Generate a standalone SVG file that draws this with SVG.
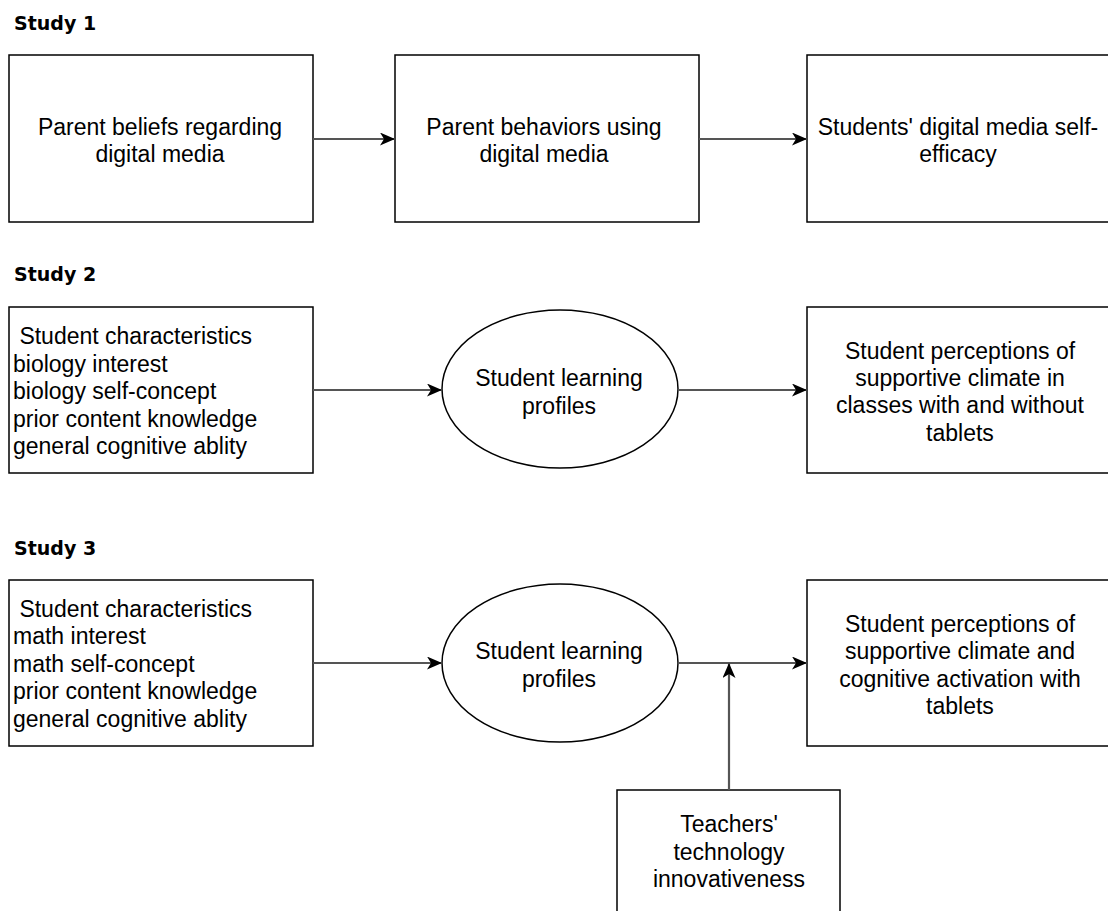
<svg xmlns="http://www.w3.org/2000/svg" width="1108" height="911" viewBox="0 0 1108 911">
  <defs>
    <marker id="arrow" viewBox="0 0 15 13" refX="15" refY="6.5" markerWidth="15" markerHeight="13" markerUnits="userSpaceOnUse" orient="auto">
      <path d="M0,0 L15,6.5 L0,13 L4,6.5 Z" fill="#000"/>
    </marker>
  </defs>
  <style>
    .box { fill: #fff; stroke: #000; stroke-width: 1.5; }
    .lbl { font-family: "Liberation Sans", Arial, sans-serif; font-size: 23px; fill: #000; }
    .mid { text-anchor: middle; }
    .head { font-family: "DejaVu Sans", Verdana, sans-serif; font-size: 19px; font-weight: bold; fill: #000; }
    .conn { fill: none; stroke: #555; stroke-width: 2.2; marker-end: url(#arrow); }
  </style>
  <rect width="1108" height="911" fill="#fff"/>

  <!-- section headings -->
  <text class="head" x="14" y="30">Study 1</text>
  <text class="head" x="14" y="281">Study 2</text>
  <text class="head" x="14" y="555">Study 3</text>

  <!-- Study 1 -->
  <g id="parent-beliefs">
    <rect class="box" x="9" y="55" width="304" height="167"/>
    <text class="lbl mid" x="160" y="135">Parent beliefs regarding</text>
    <text class="lbl mid" x="160" y="162">digital media</text>
  </g>
  <g id="parent-behaviors">
    <rect class="box" x="395" y="55" width="304" height="167"/>
    <text class="lbl mid" x="544" y="135">Parent behaviors using</text>
    <text class="lbl mid" x="544" y="162">digital media</text>
  </g>
  <g id="self-efficacy">
    <rect class="box" x="807" y="55" width="304" height="167"/>
    <text class="lbl mid" x="958" y="135">Students' digital media self-</text>
    <text class="lbl mid" x="958" y="162">efficacy</text>
  </g>

  <!-- Study 2 -->
  <g id="characteristics-bio">
    <rect class="box" x="9" y="307" width="304" height="166"/>
    <text class="lbl" x="13" y="344" xml:space="preserve"> Student characteristics</text>
    <text class="lbl" x="13" y="372">biology interest</text>
    <text class="lbl" x="13" y="399">biology self-concept</text>
    <text class="lbl" x="13" y="427">prior content knowledge</text>
    <text class="lbl" x="13" y="454">general cognitive ablity</text>
  </g>
  <g id="profiles-2">
    <ellipse class="box" cx="560" cy="389" rx="118" ry="79"/>
    <text class="lbl mid" x="559" y="386">Student learning</text>
    <text class="lbl mid" x="559" y="414">profiles</text>
  </g>
  <g id="climate-2">
    <rect class="box" x="807" y="307" width="304" height="166"/>
    <text class="lbl mid" x="960" y="359">Student perceptions of</text>
    <text class="lbl mid" x="960" y="386">supportive climate in</text>
    <text class="lbl mid" x="960" y="413">classes with and without</text>
    <text class="lbl mid" x="960" y="441">tablets</text>
  </g>

  <!-- Study 3 -->
  <g id="characteristics-math">
    <rect class="box" x="9" y="580" width="304" height="166"/>
    <text class="lbl" x="13" y="617" xml:space="preserve"> Student characteristics</text>
    <text class="lbl" x="13" y="644">math interest</text>
    <text class="lbl" x="13" y="672">math self-concept</text>
    <text class="lbl" x="13" y="699">prior content knowledge</text>
    <text class="lbl" x="13" y="727">general cognitive ablity</text>
  </g>
  <g id="profiles-3">
    <ellipse class="box" cx="560" cy="663" rx="118" ry="79"/>
    <text class="lbl mid" x="559" y="659">Student learning</text>
    <text class="lbl mid" x="559" y="687">profiles</text>
  </g>
  <g id="climate-3">
    <rect class="box" x="807" y="580" width="304" height="166"/>
    <text class="lbl mid" x="960" y="632">Student perceptions of</text>
    <text class="lbl mid" x="960" y="659">supportive climate and</text>
    <text class="lbl mid" x="960" y="687">cognitive activation with</text>
    <text class="lbl mid" x="960" y="714">tablets</text>
  </g>
  <g id="innovativeness">
    <rect class="box" x="617" y="790" width="223" height="130"/>
    <text class="lbl mid" x="729" y="832">Teachers'</text>
    <text class="lbl mid" x="729" y="860">technology</text>
    <text class="lbl mid" x="729" y="887">innovativeness</text>
  </g>

  <!-- connectors -->
  <g id="connectors">
    <line class="conn" x1="313" y1="139" x2="395" y2="139"/>
    <line class="conn" x1="699" y1="139" x2="807" y2="139"/>
    <line class="conn" x1="313" y1="390" x2="442" y2="390"/>
    <line class="conn" x1="678" y1="390" x2="807" y2="390"/>
    <line class="conn" x1="313" y1="663" x2="442" y2="663"/>
    <line class="conn" x1="678" y1="663" x2="807" y2="663"/>
    <line class="conn" x1="729" y1="790" x2="729" y2="663"/>
  </g>
</svg>
